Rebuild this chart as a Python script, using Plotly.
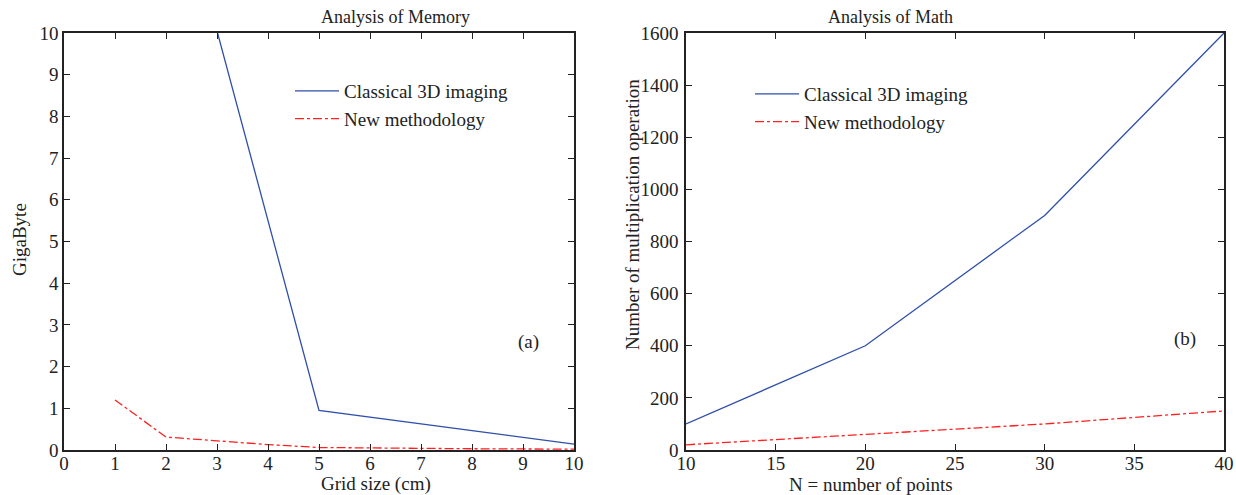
import plotly.graph_objects as go

# Left panel: memory
grid_x = [1, 2, 3, 5, 10]
mem_classical = [60, 25, 10.05, 0.95, 0.14]
grid_new_x = [1, 2, 3, 4, 5, 6, 7, 8, 9, 10]
mem_new = [1.2, 0.31, 0.22, 0.13, 0.06, 0.045, 0.035, 0.03, 0.025, 0.02]

# Right panel: multiplications
n_points = [10, 20, 30, 40]
math_classical = [100, 400, 900, 1600]
math_new = [20, 60, 100, 150]

FONT = "Liberation Serif, serif"
BLUE = "#2f4fa8"
RED = "#ff2020"
INK = "#222"

fig = go.Figure()
fig.add_trace(go.Scatter(x=grid_x, y=mem_classical, mode="lines", name="Classical 3D imaging",
                         line=dict(color=BLUE, width=1.3), xaxis="x", yaxis="y", legend="legend"))
fig.add_trace(go.Scatter(x=grid_new_x, y=mem_new, mode="lines", name="New methodology",
                         line=dict(color=RED, width=1.3, dash="dashdot"), xaxis="x", yaxis="y", legend="legend"))
fig.add_trace(go.Scatter(x=n_points, y=math_classical, mode="lines", name="Classical 3D imaging",
                         line=dict(color=BLUE, width=1.3), xaxis="x2", yaxis="y2", legend="legend2"))
fig.add_trace(go.Scatter(x=n_points, y=math_new, mode="lines", name="New methodology",
                         line=dict(color=RED, width=1.3, dash="dashdot"), xaxis="x2", yaxis="y2", legend="legend2"))

ax = dict(showline=True, linecolor=INK, linewidth=1.5, mirror="allticks", ticks="inside",
          ticklen=6, tickcolor=INK, showgrid=False, zeroline=False, automargin=False,
          tickfont=dict(family=FONT, size=19, color=INK))
ydom = [45 / 495, 462 / 495]
tfont = dict(family=FONT, size=19, color=INK)
lfont = dict(family=FONT, size=19, color=INK)
fig.update_layout(
    width=1236, height=495, margin=dict(l=0, r=0, t=0, b=0, autoexpand=False),
    paper_bgcolor="white", plot_bgcolor="white",
    font=dict(family=FONT, size=19, color=INK),
    xaxis=dict(domain=[64 / 1236, 574 / 1236], range=[0, 10], dtick=1, anchor="y",
               ticklabelstandoff=-5, **ax),
    yaxis=dict(domain=ydom, range=[0, 10], dtick=1, anchor="x", **ax),
    xaxis2=dict(domain=[686 / 1236, 1224 / 1236], range=[10, 40], dtick=5, anchor="y2",
                ticklabelstandoff=-5, **ax),
    yaxis2=dict(domain=ydom, range=[0, 1600], dtick=200, anchor="x2", ticklabelstandoff=2, **ax),
    legend=dict(x=290 / 1236, y=1 - 72 / 495, xref="paper", yref="paper", xanchor="left", yanchor="top",
                bgcolor="rgba(0,0,0,0)", font=lfont, tracegroupgap=0, itemwidth=44),
    legend2=dict(x=750 / 1236, y=1 - 75 / 495, xref="paper", yref="paper", xanchor="left", yanchor="top",
                 bgcolor="rgba(0,0,0,0)", font=lfont, tracegroupgap=0, itemwidth=44),
    annotations=[
        dict(text="Analysis of Memory", x=(64 + 574) / 2 / 1236, y=1 - 17 / 495, xref="paper", yref="paper",
             showarrow=False, font=dict(family=FONT, size=18, color=INK), yanchor="middle"),
        dict(text="Analysis of Math", x=(686 + 1224) / 2 / 1236, y=1 - 17 / 495, xref="paper", yref="paper",
             showarrow=False, font=dict(family=FONT, size=18, color=INK), yanchor="middle"),
        dict(text="Grid size (cm)", x=(64 + 574) / 2 / 1236, y=1 - 484 / 495, xref="paper", yref="paper",
             showarrow=False, font=tfont, yanchor="middle"),
        dict(text="N = number of points", x=(686 + 1224) / 2 / 1236, y=1 - 484 / 495, xref="paper", yref="paper",
             showarrow=False, font=tfont, yanchor="middle"),
        dict(text="GigaByte", x=19 / 1236, y=1 - 240 / 495, xref="paper", yref="paper", textangle=-90,
             showarrow=False, font=tfont, xanchor="center", yanchor="middle"),
        dict(text="Number of multiplication operation", x=632 / 1236, y=1 - 215 / 495, xref="paper",
             yref="paper", textangle=-90, showarrow=False, font=tfont, xanchor="center", yanchor="middle"),
        dict(text="(a)", x=9.1, y=2.6, xref="x", yref="y", showarrow=False, font=tfont),
        dict(text="(b)", x=37.8, y=425, xref="x2", yref="y2", showarrow=False, font=tfont),
    ],
)
fig.write_html("out.html")
